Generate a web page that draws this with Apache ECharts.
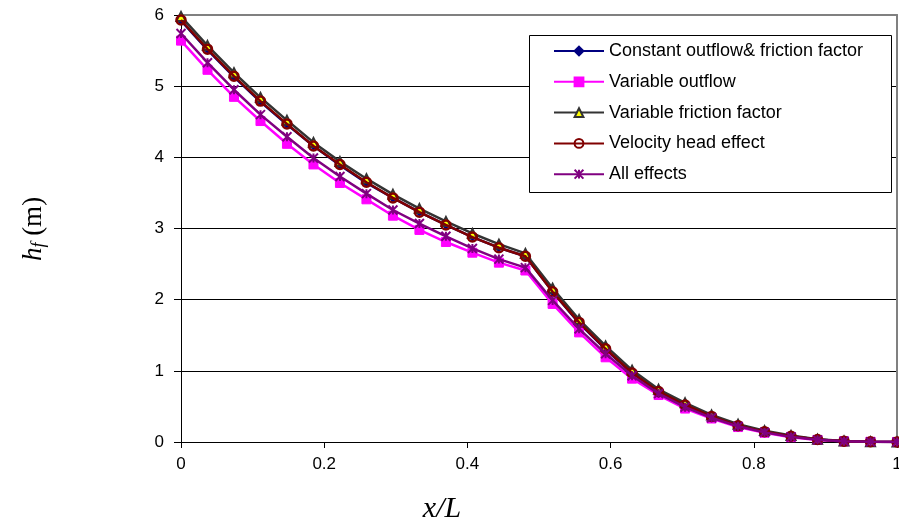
<!DOCTYPE html>
<html>
<head>
<meta charset="utf-8">
<script src="https://cdn.jsdelivr.net/npm/echarts@6/dist/echarts.min.js"></script>
<style>
  html, body { margin: 0; padding: 0; background: #ffffff; overflow: hidden; }
  #chart { width: 899px; height: 524px; }
</style>
</head>
<body>
<div id="chart"></div>
<script>
const xValues = [0, 0.037, 0.074, 0.111, 0.148, 0.185, 0.222, 0.259, 0.296, 0.333, 0.370, 0.407, 0.444, 0.481, 0.519, 0.556, 0.593, 0.630, 0.667, 0.704, 0.741, 0.778, 0.815, 0.852, 0.889, 0.926, 0.963, 1.000];

const constantOutflow = [5.92, 5.51, 5.13, 4.78, 4.46, 4.16, 3.89, 3.64, 3.43, 3.23, 3.05, 2.88, 2.73, 2.61, 2.11, 1.67, 1.30, 0.97, 0.71, 0.52, 0.36, 0.23, 0.145, 0.08, 0.035, 0.012, 0.003, 0];
const variableOutflow = [5.64, 5.23, 4.85, 4.51, 4.19, 3.90, 3.64, 3.41, 3.18, 2.98, 2.81, 2.66, 2.52, 2.41, 1.94, 1.54, 1.19, 0.89, 0.66, 0.47, 0.33, 0.21, 0.13, 0.068, 0.028, 0.009, 0.002, 0];
const variableFriction = [5.98, 5.57, 5.19, 4.84, 4.52, 4.21, 3.94, 3.70, 3.48, 3.28, 3.10, 2.93, 2.78, 2.65, 2.16, 1.72, 1.35, 1.01, 0.74, 0.55, 0.38, 0.25, 0.16, 0.09, 0.04, 0.014, 0.004, 0];
const velocityHead = [5.93, 5.52, 5.14, 4.79, 4.47, 4.16, 3.90, 3.65, 3.43, 3.23, 3.05, 2.88, 2.73, 2.61, 2.11, 1.68, 1.31, 0.97, 0.71, 0.52, 0.36, 0.23, 0.145, 0.08, 0.035, 0.012, 0.003, 0];
const allEffects = [5.74, 5.33, 4.95, 4.60, 4.29, 3.99, 3.73, 3.49, 3.26, 3.07, 2.89, 2.72, 2.57, 2.45, 1.99, 1.59, 1.24, 0.93, 0.68, 0.49, 0.34, 0.22, 0.135, 0.072, 0.03, 0.01, 0.002, 0];

const seriesNames = ['Constant outflow& friction factor', 'Variable outflow', 'Variable friction factor', 'Velocity head effect', 'All effects'];
const xTickLabels = ['0', '0.2', '0.4', '0.6', '0.8', '1'];
const yTickLabels = ['0', '1', '2', '3', '4', '5', '6'];

function pairs(ys) { return xValues.map((x, i) => [x, ys[i]]); }

const asterisk = 'path://M0,0L10,10M10,0L0,10M5,0L5,10';

const chart = echarts.init(document.getElementById('chart'), null, { renderer: 'canvas' });

const option = {
  backgroundColor: '#ffffff',
  animation: false,
  grid: { left: 181, top: 15, right: 2, bottom: 82, containLabel: false, outerBoundsMode: 'none' },
  legend: {
    orient: 'vertical',
    left: 553,
    top: 42,
    padding: 0,
    itemWidth: 50,
    itemHeight: 11,
    itemGap: 12.8,
    textStyle: { fontFamily: 'Liberation Sans, Arial, sans-serif', fontSize: 18, color: '#000000', lineHeight: 18 },
    data: seriesNames,
    z: 10
  },
  graphic: [
    {
      type: 'rect', z: 5,
      shape: { x: 529.5, y: 35.5, width: 362, height: 157 },
      style: { fill: '#ffffff', stroke: '#000000', lineWidth: 1 }
    },
    {
      type: 'text', x: 442, y: 509, z: 5,
      style: {
        text: 'x/L', align: 'center', verticalAlign: 'middle',
        font: 'italic 30px "Liberation Serif", "Times New Roman", serif', fill: '#000000'
      }
    },
    {
      type: 'text', x: 34, y: 229, rotation: Math.PI / 2, z: 5,
      style: {
        text: '{h|h}{f|f}{m| (m)}', align: 'center', verticalAlign: 'middle',
        fill: '#000000',
        rich: {
          h: { fontFamily: '"Liberation Serif", "Times New Roman", serif', fontStyle: 'italic', fontSize: 27, fill: '#000000' },
          f: { fontFamily: '"Liberation Serif", "Times New Roman", serif', fontStyle: 'italic', fontSize: 18, fill: '#000000', padding: [10, 0, 0, 0] },
          m: { fontFamily: '"Liberation Serif", "Times New Roman", serif', fontSize: 27, fill: '#000000' }
        }
      }
    }
  ],
  xAxis: [
    {
      type: 'value', min: 0, max: 1, interval: 0.2,
      axisLine: { show: true, onZero: false, lineStyle: { color: '#000000', width: 1 } },
      axisTick: { show: true, length: 6, lineStyle: { color: '#000000' } },
      axisLabel: {
        margin: 14, color: '#000000', fontSize: 17, fontFamily: 'Liberation Sans, Arial, sans-serif',
        formatter: (v) => xTickLabels[Math.round(v / 0.2)]
      },
      splitLine: { show: false }
    },
    {
      type: 'value', min: 0, max: 1, position: 'top',
      axisLine: { show: true, onZero: false, lineStyle: { color: '#808080', width: 2 } },
      axisTick: { show: false }, axisLabel: { show: false }, splitLine: { show: false }
    }
  ],
  yAxis: [
    {
      type: 'value', min: 0, max: 6, interval: 1,
      axisLine: { show: true, onZero: false, lineStyle: { color: '#000000', width: 1 } },
      axisTick: { show: true, length: 7, lineStyle: { color: '#000000' } },
      axisLabel: {
        margin: 17, color: '#000000', fontSize: 17, fontFamily: 'Liberation Sans, Arial, sans-serif',
        formatter: (v) => yTickLabels[Math.round(v)]
      },
      splitLine: { show: true, lineStyle: { color: '#000000', width: 1 } }
    },
    {
      type: 'value', min: 0, max: 6, position: 'right',
      axisLine: { show: true, onZero: false, lineStyle: { color: '#808080', width: 2 } },
      axisTick: { show: false }, axisLabel: { show: false }, splitLine: { show: false }
    }
  ],
  series: [
    {
      name: seriesNames[0], type: 'line', data: pairs(constantOutflow),
      symbol: 'diamond', symbolSize: 8, showSymbol: true,
      lineStyle: { color: '#000080', width: 2.5 },
      itemStyle: { color: '#000080', borderColor: '#000080', borderWidth: 1 },
      z: 2
    },
    {
      name: seriesNames[1], type: 'line', data: pairs(variableOutflow),
      symbol: 'rect', symbolSize: 9, showSymbol: true,
      lineStyle: { color: '#ff00ff', width: 2.5 },
      itemStyle: { color: '#ff00ff', borderColor: '#ff00ff', borderWidth: 1 },
      z: 3
    },
    {
      name: seriesNames[2], type: 'line', data: pairs(variableFriction),
      symbol: 'triangle', symbolSize: 9, showSymbol: true,
      lineStyle: { color: '#333333', width: 2.5 },
      itemStyle: { color: '#ffff00', borderColor: '#333333', borderWidth: 2 },
      z: 4
    },
    {
      name: seriesNames[3], type: 'line', data: pairs(velocityHead),
      symbol: 'circle', symbolSize: 9, showSymbol: true,
      lineStyle: { color: '#800000', width: 2.5 },
      itemStyle: { color: 'rgba(255,255,255,0)', borderColor: '#800000', borderWidth: 2.5 },
      z: 5
    },
    {
      name: seriesNames[4], type: 'line', data: pairs(allEffects),
      symbol: asterisk, symbolSize: 9, showSymbol: true,
      lineStyle: { color: '#800080', width: 2.5 },
      itemStyle: { color: '#800080', borderColor: '#800080', borderWidth: 2 },
      z: 6
    }
  ]
};

chart.setOption(option);
</script>
</body>
</html>
